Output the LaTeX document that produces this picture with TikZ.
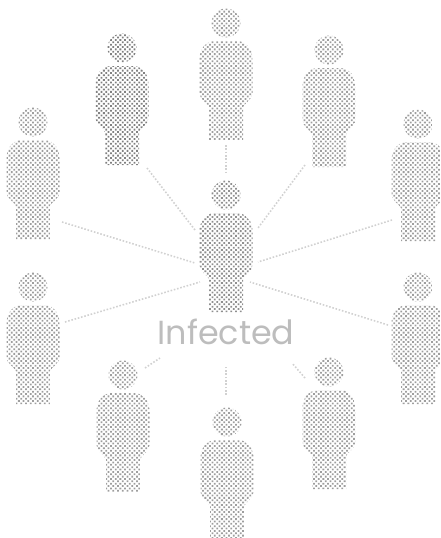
\documentclass[tikz,border=0pt]{standalone}
\usepackage{fontspec}
\usetikzlibrary{patterns.meta}
\setmainfont{Poppins}
\definecolor{personfill}{gray}{0.62}
\definecolor{personbase}{gray}{0.80}
\definecolor{persondark}{gray}{0.50}
\definecolor{darkbase}{gray}{0.68}
\definecolor{centrefill}{gray}{0.56}
\definecolor{centrebase}{gray}{0.74}
\definecolor{linkgray}{gray}{0.82}
\definecolor{labelgray}{gray}{0.74}
\tikzset{
  person/.pic={
    \fill[pic actions] (0,0) circle (14.5);
    \fill[pic actions] (-12,18) -- (12,18) .. controls (21,19) and (26.5,26) .. (26.5,37)
      -- (26.5,70) .. controls (26.5,76) and (20,79) .. (17,84) -- (17,117) -- (-17,117) -- (-17,84)
      .. controls (-20,79) and (-26.5,76) .. (-26.5,70) -- (-26.5,37)
      .. controls (-26.5,26) and (-21,19) .. (-12,18) -- cycle;
  },
  halftone/.style 2 args={preaction={fill=#2}, pattern={Dots[distance=1.9pt, radius=0.72pt, angle=45]}, pattern color=#1},
  link/.style={linkgray, line width=0.9pt, densely dotted}
}
\begin{document}
\begin{tikzpicture}[x=0.02cm, y=-0.02cm]
    \useasboundingbox (0,0) rectangle (440,538);
    \clip (0,0) rectangle (440,538);

    % --- People around the centre ---
    \foreach \name/\xpos/\ypos/\tone/\base in {
        top/226/23/personfill/personbase, upleft/122/48/persondark/darkbase, upright/329/50/personfill/personbase,
        sideUL/33/122/personfill/personbase, sideUR/418/124/personfill/personbase, sideLL/33/287/personfill/personbase,
        sideLR/418/287/personfill/personbase, lowleft/123/375/personfill/personbase, lowright/329/372/personfill/personbase,
        bottom/227/422/personfill/personbase, centre/226/195/centrefill/centrebase}
        \pic[halftone={\tone}{\base}] (\name) at (\xpos,\ypos) {person};

    % --- Label ---
    \node[labelgray, font=\fontsize{19}{19}\selectfont, inner sep=0pt] (infected) at (226,332) {Infected};

    % --- Link ends ---
    \coordinate (a1) at (226,145);  \coordinate (b1) at (226,175);
    \coordinate (a2) at (147,168);  \coordinate (b2) at (195,230);
    \coordinate (a3) at (305,165);  \coordinate (b3) at (258,228);
    \coordinate (a4) at (62,222);   \coordinate (b4) at (195,263);
    \coordinate (a5) at (392,220);  \coordinate (b5) at (258,262);
    \coordinate (a6) at (65,322);   \coordinate (b6) at (200,282);
    \coordinate (a7) at (388,325);  \coordinate (b7) at (250,282);
    \coordinate (a8) at (145,368);  \coordinate (b8) at (160,358);
    \coordinate (a9) at (226,395);  \coordinate (b9) at (226,365);
    \coordinate (a10) at (305,378); \coordinate (b10) at (292,363);

    % --- Dotted links ---
    \foreach \i in {1,...,10}
        \draw[link] (a\i) -- (b\i);
\end{tikzpicture}
\end{document}
